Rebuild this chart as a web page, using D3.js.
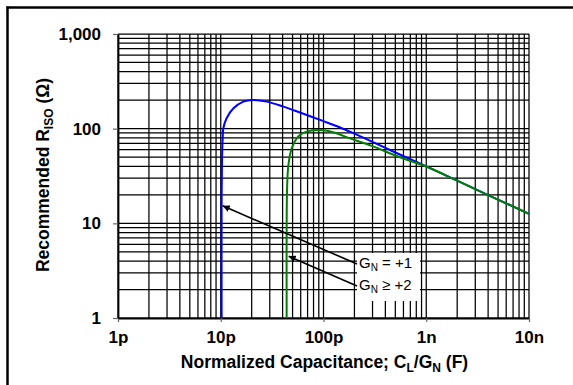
<!DOCTYPE html>
<html>
<head>
<meta charset="utf-8">
<script src="https://cdn.jsdelivr.net/npm/d3@7"></script>
<style>
  body { margin: 0; background: #fff; }
  text { font-family: "Liberation Sans", Arial, sans-serif; }
</style>
</head>
<body>
<div id="chart"></div>
<script>
// capacitance in F, recommended R_ISO in ohms
var xTicks = [1e-12, 1e-11, 1e-10, 1e-9, 1e-8];
var xTickLabels = ["1p", "10p", "100p", "1n", "10n"];
var yTicks = [1, 10, 100, 1000];
var yTickLabels = ["1", "10", "100", "1,000"];

var gn1C = [10.2e-12, 10.2e-12, 10.3e-12, 10.45e-12, 10.6e-12, 11.4e-12, 13.3e-12, 16.6e-12, 20.7e-12, 28e-12, 40e-12, 59e-12, 100e-12, 145e-12, 200e-12, 300e-12, 500e-12, 1e-9, 2e-9, 4e-9, 1e-8];
var gn1R = [1, 20, 50, 80, 101, 129, 164, 193, 201, 193, 172, 148, 120, 103, 88.5, 72.5, 56, 40, 28.2, 19.9, 12.6];

var gn2C = [43.8e-12, 43.8e-12, 44.3e-12, 45.5e-12, 49e-12, 54.8e-12, 60e-12, 68.6e-12, 86e-12, 100e-12, 124e-12, 181e-12, 300e-12, 500e-12, 700e-12, 1e-9, 2e-9, 4e-9, 1e-8];
var gn2R = [1, 10, 25, 41, 62, 79, 87, 93, 97, 96, 91.5, 79, 65.5, 52, 45.6, 39.8, 28.2, 19.9, 12.6];

var legendLabels = [["G", "N", " = +1"], ["G", "N", " \u2265 +2"]];

var width = 573, height = 385;
var margin = {top: 34, left: 118, right: 44, bottom: 67};

var svg = d3.select('#chart')
    .append('svg')
    .attr('width', width)
    .attr('height', height);

var x = d3.scaleLog()
    .domain([1e-12, 1e-8])
    .range([margin.left, width - margin.right]);
var y = d3.scaleLog()
    .domain([1, 1000])
    .range([height - margin.bottom, margin.top]);

// outer frame (only left and top edges show)
svg.append('line').attr('x1', 7.5).attr('x2', 7.5).attr('y1', 6.5).attr('y2', height)
    .style('stroke', '#000').style('stroke-width', 2.5);
svg.append('line').attr('x1', 6.5).attr('x2', width).attr('y1', 7.5).attr('y2', 7.5)
    .style('stroke', '#000').style('stroke-width', 2.5);

// grid
var xGrid = [], yGrid = [];
for (var d = -12; d < -8; d++) for (var k = 1; k < 10; k++) xGrid.push(k * Math.pow(10, d));
xGrid.push(1e-8);
for (var e = 0; e < 3; e++) for (var k2 = 1; k2 < 10; k2++) yGrid.push(k2 * Math.pow(10, e));
yGrid.push(1000);

svg.append('g').selectAll('line')
    .data(xGrid).enter().append('line')
    .attr('x1', function(d) { return x(d) }).attr('x2', function(d) { return x(d) })
    .attr('y1', y(1)).attr('y2', y(1000))
    .style('stroke', '#000').style('stroke-width', 1.25);
svg.append('g').selectAll('line')
    .data(yGrid).enter().append('line')
    .attr('y1', function(d) { return y(d) }).attr('y2', function(d) { return y(d) })
    .attr('x1', x(1e-12)).attr('x2', x(1e-8))
    .style('stroke', '#000').style('stroke-width', 1.25);

// axes
var xAxis = svg.append('g')
    .attr('transform', 'translate(0,' + y(1) + ')')
    .call(d3.axisBottom(x).tickValues(xTicks)
        .tickFormat(function(d, i) { return xTickLabels[i] })
        .tickSize(4).tickSizeOuter(0).tickPadding(9));
var yAxis = svg.append('g')
    .attr('transform', 'translate(' + x(1e-12) + ',0)')
    .call(d3.axisLeft(y).tickValues(yTicks)
        .tickFormat(function(d, i) { return yTickLabels[i] })
        .tickSize(5).tickSizeOuter(0).tickPadding(12));
[xAxis, yAxis].forEach(function(a) {
    a.select('.domain').style('stroke', '#000').style('stroke-width', 1.8);
    a.selectAll('.tick line').style('stroke', '#666').style('stroke-width', 1.2);
    a.selectAll('.tick text')
        .style('font-family', '"Liberation Sans", Arial, sans-serif')
        .style('font-size', '17px').style('font-weight', 'bold').style('fill', '#000');
});

// curves
var line = d3.line()
    .x(function(d) { return x(d[0]) })
    .y(function(d) { return y(d[1]) })
    .curve(d3.curveCatmullRom.alpha(0.5));

svg.append('path')
    .datum(d3.zip(gn1C, gn1R))
    .attr('d', line)
    .style('fill', 'none').style('stroke', '#0000ff').style('stroke-width', 2);
svg.append('path')
    .datum(d3.zip(gn2C, gn2R))
    .attr('d', line)
    .style('fill', 'none').style('stroke', '#008000').style('stroke-width', 2);

// legend labels with arrows
svg.append('defs').append('marker')
    .attr('id', 'arrow').attr('viewBox', '0 0 10 10')
    .attr('refX', 10).attr('refY', 5)
    .attr('markerWidth', 7).attr('markerHeight', 7)
    .attr('markerUnits', 'userSpaceOnUse')
    .attr('orient', 'auto')
    .append('path').attr('d', 'M0,0 L10,5 L0,10 z').style('fill', '#000');

svg.append('rect')
    .attr('x', 357).attr('y', 253).attr('width', 63).attr('height', 48)
    .style('fill', '#fff');

var arrowTips = [[x(gn1C[0]) + 1, y(15.3)], [x(gn2C[0]) + 2, y(4.5)]];
var labelY = [268, 290];

legendLabels.forEach(function(lab, i) {
    svg.append('line')
        .attr('x1', 357).attr('y1', labelY[i] - 4)
        .attr('x2', arrowTips[i][0]).attr('y2', arrowTips[i][1])
        .style('stroke', '#000').style('stroke-width', 1.6)
        .attr('marker-end', 'url(#arrow)');
    var t = svg.append('text')
        .attr('x', 359).attr('y', labelY[i])
        .style('font-size', '15px').style('fill', '#000');
    t.append('tspan').text(lab[0]);
    t.append('tspan').attr('dy', 3).style('font-size', '10px').text(lab[1]);
    t.append('tspan').attr('dy', -3).text(lab[2]);
});

// axis titles
var xt = svg.append('text')
    .attr('x', (x(1e-12) + x(1e-8)) / 2 + 1).attr('y', 368)
    .attr('text-anchor', 'middle')
    .style('font-size', '17.5px').style('font-weight', 'bold');
xt.append('tspan').text('Normalized Capacitance; C');
xt.append('tspan').attr('dy', 3.5).style('font-size', '12px').text('L');
xt.append('tspan').attr('dy', -3.5).text('/G');
xt.append('tspan').attr('dy', 3.5).style('font-size', '12px').text('N');
xt.append('tspan').attr('dy', -3.5).text(' (F)');

var yt = svg.append('text')
    .attr('transform', 'translate(49,175) rotate(-90)')
    .attr('text-anchor', 'middle')
    .style('font-size', '17.5px').style('font-weight', 'bold');
yt.append('tspan').text('Recommended R');
yt.append('tspan').attr('dy', 3.5).style('font-size', '12px').text('ISO');
yt.append('tspan').attr('dy', -3.5).text(' (\u03a9)');
</script>
</body>
</html>
